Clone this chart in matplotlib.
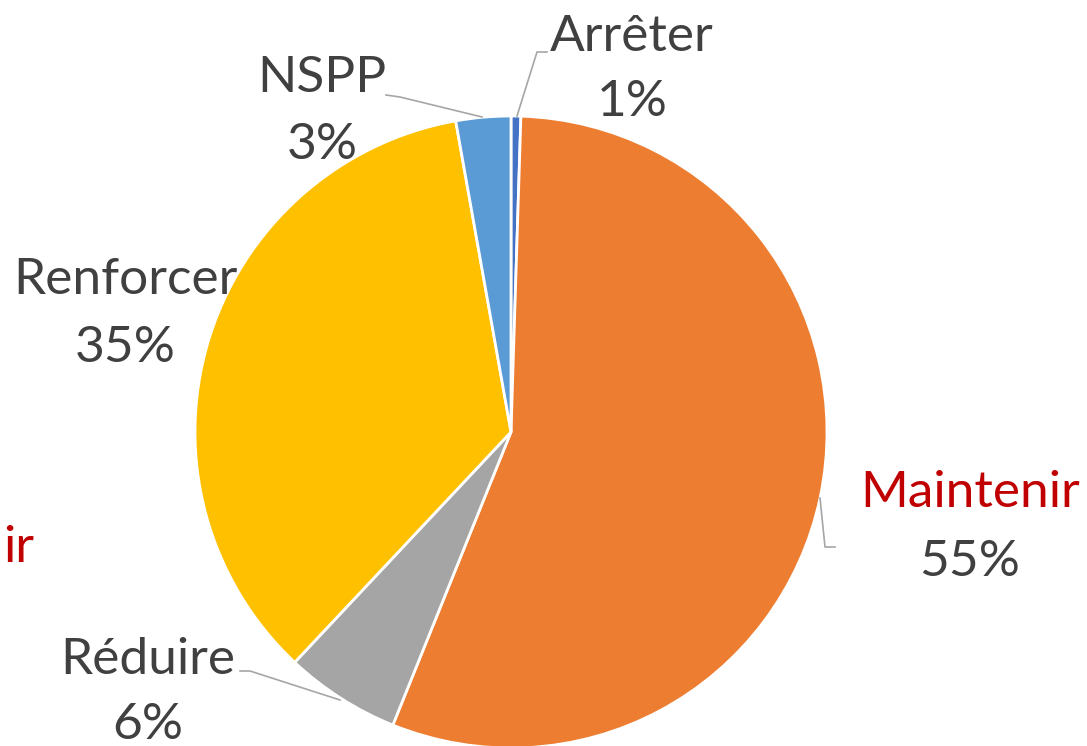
import matplotlib
matplotlib.use("Agg")
import matplotlib.pyplot as plt

# slices, clockwise from 12 o'clock
labels = ["Arrêter", "Maintenir", "Réduire", "Renforcer", "NSPP"]
values = [0.5, 55.6, 5.9, 35.2, 2.8]
pct_labels = ["1%", "55%", "6%", "35%", "3%"]
colors = ["#4472C4", "#ED7D31", "#A5A5A5", "#FFC000", "#5B9BD5"]

W, H = 1087, 746
GREY = "#404040"
LINE = "#A6A6A6"


def py(y):
    # pixel row (from top) to data y
    return H - y


def main():
    plt.rcParams['font.family'] = ['Lato', 'DejaVu Sans']
    fig = plt.figure(figsize=(W / 100, H / 100), dpi=100)
    ax = fig.add_axes([0, 0, 1, 1])

    ax.pie(values, colors=colors, startangle=90, counterclock=False,
           center=(511, py(432)), radius=316,
           wedgeprops=dict(edgecolor="white", linewidth=2))

    ax.set_xlim(0, W)
    ax.set_ylim(0, H)
    ax.set_aspect('equal')
    ax.axis('off')

    # label positions (center x, name line y, pct line y)
    pos = {
        "Arrêter": (632, 37, 102),
        "Maintenir": (970, 493, 562),
        "Réduire": (148, 660, 725),
        "Renforcer": (125, 280, 348),
        "NSPP": (322, 78, 145),
    }
    fs = 37
    for name, pct in zip(labels, pct_labels):
        x, y1, y2 = pos[name]
        c = "#C00000" if name == "Maintenir" else GREY
        ax.text(x, py(y1), name, color=c, fontsize=fs, ha='center', va='center')
        ax.text(x, py(y2), pct, color=GREY, fontsize=fs, ha='center', va='center')

    # tail of a label from a neighbouring chart, at the left edge
    ax.text(3, py(548), "ir", color="#C00000", fontsize=fs,
            ha='left', va='center')

    # leader lines
    leaders = [
        [(517, 116), (537, 52), (547, 52)],
        [(482, 117), (400, 97), (386, 95)],
        [(820, 498), (825, 547), (835, 547)],
        [(340, 700), (250, 671), (240, 671)],
    ]
    for pts in leaders:
        xs = [p[0] for p in pts]
        ys = [py(p[1]) for p in pts]
        ax.plot(xs, ys, color=LINE, linewidth=1.2)

    fig.savefig("out.png", dpi=100)


if __name__ == "__main__":
    main()
